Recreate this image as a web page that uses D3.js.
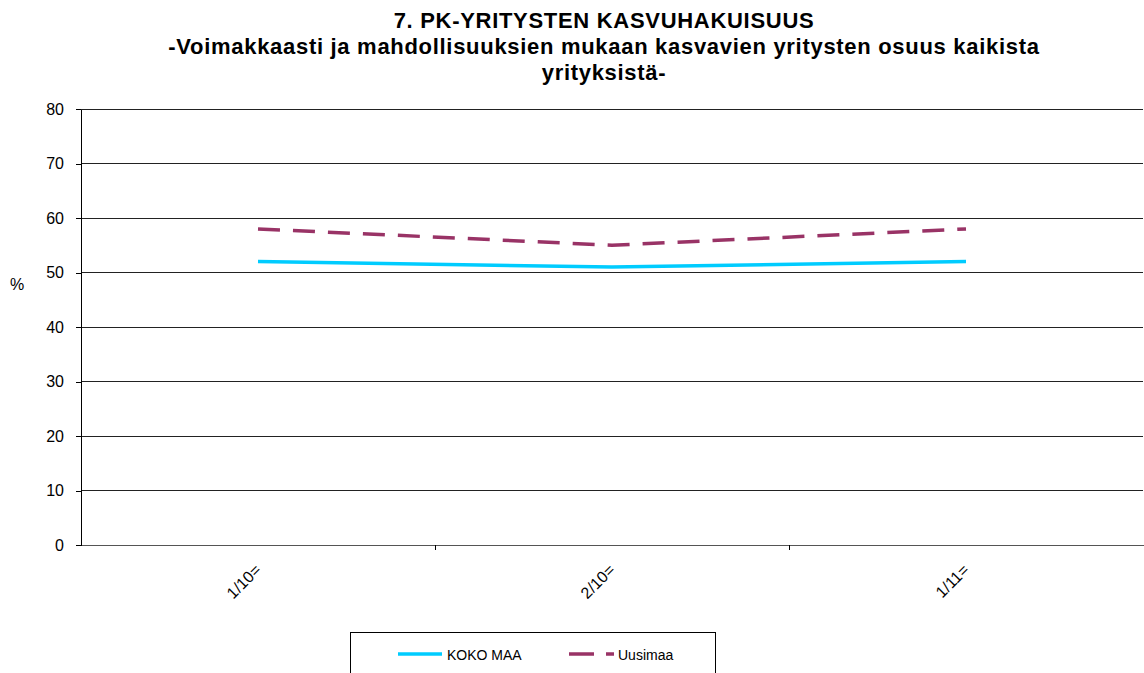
<!DOCTYPE html>
<html><head><meta charset="utf-8">
<script src="https://cdn.jsdelivr.net/npm/d3@7"></script>
<style>body{margin:0;background:#fff}svg{display:block}</style>
</head><body>
<script>
const categories = ["1/10=", "2/10=", "1/11="];
const kokoMaa = [52, 51, 52];
const uusimaa = [58, 55, 58];
const yTicks = [0, 10, 20, 30, 40, 50, 60, 70, 80];
const titleLines = ["7. PK-YRITYSTEN KASVUHAKUISUUS", "-Voimakkaasti ja mahdollisuuksien mukaan kasvavien yritysten osuus kaikista", "yrityksistä-"];
const seriesNames = ["KOKO MAA", "Uusimaa"];

const W = 1144, H = 673;
const svg = d3.select("body").append("svg").attr("width", W).attr("height", H);
const font = "Liberation Sans, Arial, sans-serif";
const L = 81, R = 1143, T = 109, B = 545;

const x = d3.scaleBand().domain(categories).range([L, R]).padding(0);
const y = d3.scaleLinear().domain([0, 80]).range([B, T]);

// title
const ty = [28, 54, 80];
titleLines.forEach((t, i) => {
  svg.append("text").attr("x", 604).attr("y", ty[i]).attr("text-anchor", "middle")
    .attr("font-family", font).attr("font-weight", "bold").attr("font-size", 22)
    .attr("letter-spacing", 0.7).text(t);
});

// gridlines
svg.append("g").selectAll("line").data(yTicks.filter(d => d > 0)).join("line")
  .attr("x1", L).attr("x2", R).attr("y1", d => y(d)).attr("y2", d => y(d))
  .attr("stroke", "#222").attr("stroke-width", 1).attr("shape-rendering", "crispEdges");

// y axis
const yAxis = svg.append("g").attr("transform", `translate(${L},0)`)
  .call(d3.axisLeft(y).tickValues(yTicks).tickSize(5).tickPadding(12).tickSizeOuter(0));
yAxis.select(".domain").attr("stroke", "#000").attr("shape-rendering", "crispEdges");
yAxis.selectAll(".tick line").attr("stroke", "#000").attr("shape-rendering", "crispEdges");
yAxis.selectAll("text").attr("font-family", font).attr("font-size", 16).attr("fill", "#000");

// x axis
const xAxis = svg.append("g").attr("transform", `translate(0,${B})`)
  .call(d3.axisBottom(x).tickSize(0).tickSizeOuter(0));
xAxis.select(".domain").attr("stroke", "#555").attr("shape-rendering", "crispEdges");
xAxis.selectAll(".tick text").attr("font-family", font).attr("font-size", 16).attr("fill", "#000")
  .attr("text-anchor", "end").attr("dy", null).attr("y", 0)
  .attr("transform", "translate(4,26) rotate(-45)");
// boundary ticks between categories
svg.append("g").selectAll("line").data(categories.slice(1)).join("line")
  .attr("x1", d => x(d)).attr("x2", d => x(d)).attr("y1", B).attr("y2", B + 5)
  .attr("stroke", "#000").attr("shape-rendering", "crispEdges");

// "%" label
svg.append("text").attr("x", 10).attr("y", 290).attr("font-family", font).attr("font-size", 16).text("%");

const line = d3.line().x((d, i) => x(categories[i]) + x.bandwidth() / 2).y(d => y(d));
svg.append("path").datum(kokoMaa).attr("d", line).attr("fill", "none")
  .attr("stroke", "#00CCFF").attr("stroke-width", 3.5);
svg.append("path").datum(uusimaa).attr("d", line).attr("fill", "none")
  .attr("stroke", "#993366").attr("stroke-width", 3.5).attr("stroke-dasharray", "22,13");

// legend
svg.append("rect").attr("x", 350.5).attr("y", 632.5).attr("width", 365).attr("height", 60)
  .attr("fill", "#fff").attr("stroke", "#000");
const lg = svg.append("g");
lg.append("line").attr("x1", 398).attr("x2", 442).attr("y1", 654).attr("y2", 654)
  .attr("stroke", "#00CCFF").attr("stroke-width", 3.5);
lg.append("text").attr("x", 447).attr("y", 660).attr("font-family", font).attr("font-size", 14).text(seriesNames[0]);
lg.append("line").attr("x1", 569).attr("x2", 614).attr("y1", 654).attr("y2", 654)
  .attr("stroke", "#993366").attr("stroke-width", 3.5).attr("stroke-dasharray", "25,12");
lg.append("text").attr("x", 618).attr("y", 660).attr("font-family", font).attr("font-size", 14).text(seriesNames[1]);
</script>
</body></html>
